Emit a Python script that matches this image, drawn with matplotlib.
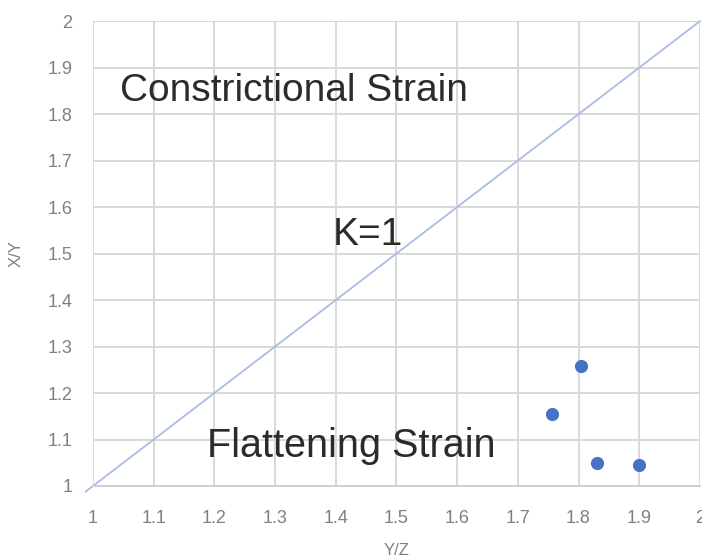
import numpy as np
import matplotlib.pyplot as plt

# data
yz = [1.804, 1.756, 1.830, 1.900]
xy = [1.258, 1.155, 1.049, 1.045]
k1_line = [0.988, 2.0]
ticks = [1.0, 1.1, 1.2, 1.3, 1.4, 1.5, 1.6, 1.7, 1.8, 1.9, 2.0]
tick_labels = ['1', '1.1', '1.2', '1.3', '1.4', '1.5', '1.6', '1.7', '1.8', '1.9', '2']

plt.rcParams['font.family'] = ['Liberation Sans', 'DejaVu Sans']

fig = plt.figure(figsize=(7.02, 5.57), dpi=100)
ax = fig.add_axes([0.1325, 0.1275, 0.8645, 0.8345])

ax.plot(k1_line, k1_line, color='#a9bde3', lw=1.3, zorder=2, clip_on=False)
ax.scatter(yz, xy, s=90, color='#4472c4', zorder=3, linewidths=0)

ax.set_xlim(1, 2)
ax.set_ylim(1, 2)
ax.set_xticks(ticks)
ax.set_xticklabels(tick_labels)
ax.set_yticks(ticks)
ax.set_yticklabels(tick_labels)
ax.tick_params(length=0, labelsize=13, colors='#808080')
ax.tick_params(axis='x', pad=17)
ax.tick_params(axis='y', pad=15)
ax.grid(color='#d9d9d9', lw=1.4)
ax.set_axisbelow(True)
for s in ['top', 'right', 'left']:
    ax.spines[s].set_visible(False)
ax.spines['bottom'].set_color('#d0d0d0')
ax.spines['bottom'].set_linewidth(1.4)

ax.set_xlabel('Y/Z', fontsize=12, color='#808080', labelpad=12)
ax.set_ylabel('X/Y', fontsize=12, color='#808080', labelpad=17)

ax.text(1.045, 1.85, 'Constrictional Strain', fontsize=28, color='#2b2b2b', va='center', ha='left')
ax.text(1.395, 1.54, 'K=1', fontsize=28, color='#2b2b2b', va='center', ha='left')
ax.text(1.188, 1.085, 'Flattening Strain', fontsize=28.5, color='#2b2b2b', va='center', ha='left')

fig.savefig('out.png', dpi=100, facecolor='white')
